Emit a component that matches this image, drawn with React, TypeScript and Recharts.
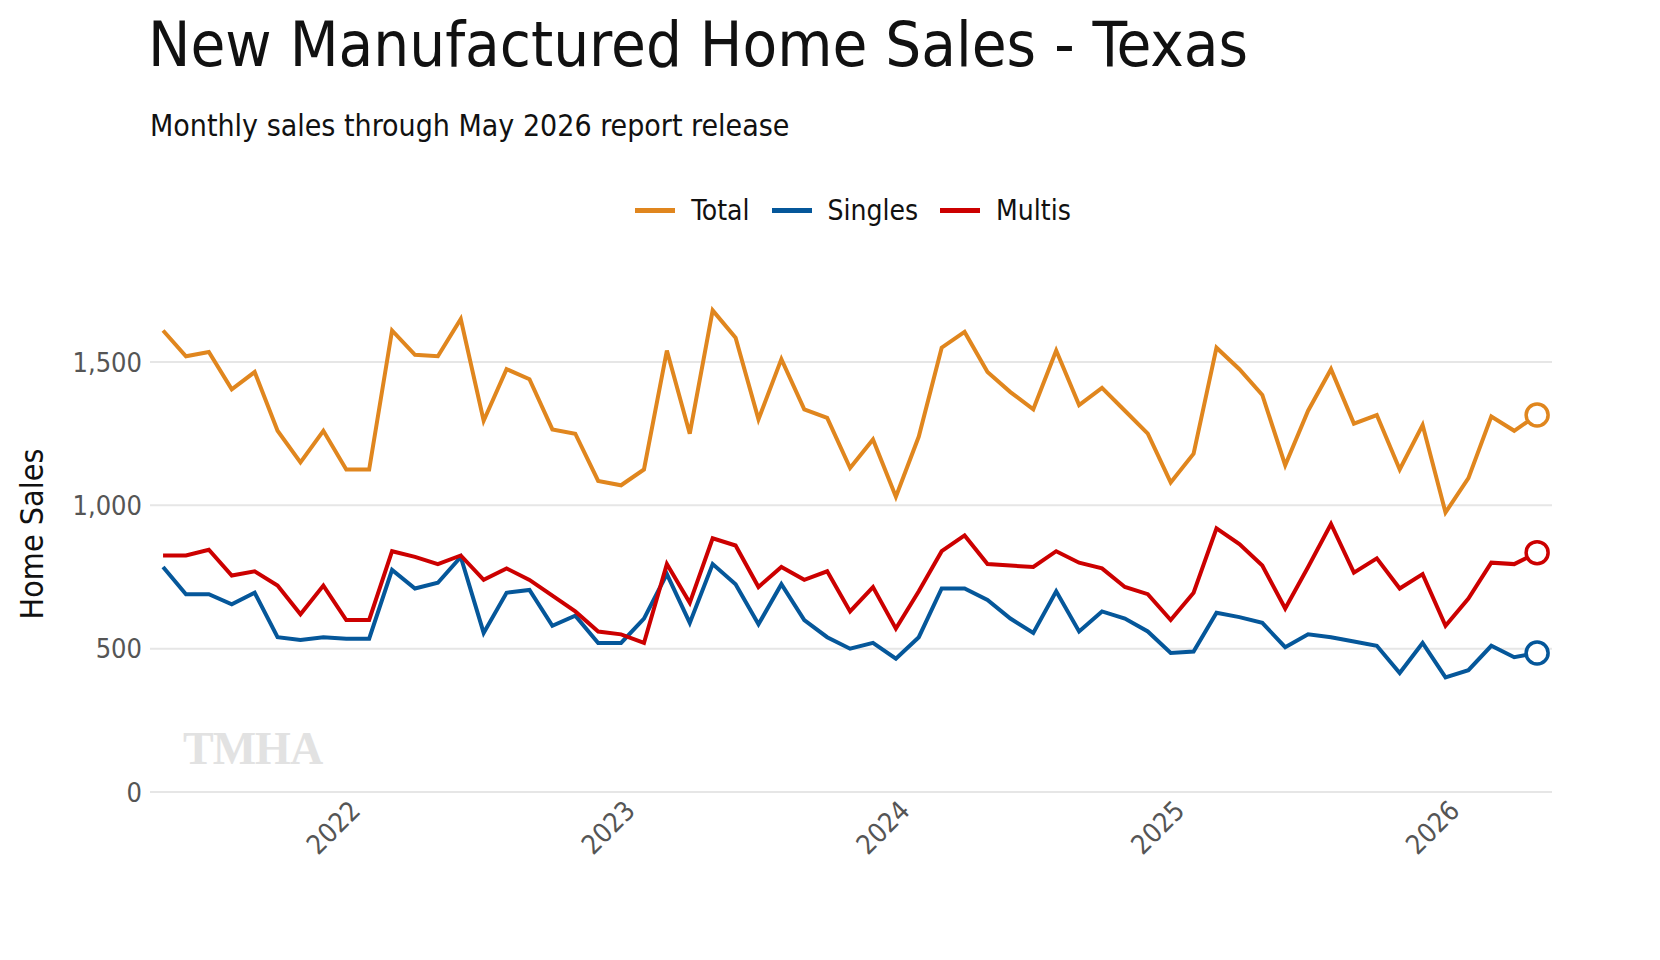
import React from 'react'
import { LineChart, Line, XAxis, YAxis, CartesianGrid, Label } from 'recharts'

const months = [
  '2021-05', '2021-06', '2021-07', '2021-08', '2021-09', '2021-10', '2021-11', '2021-12',
  '2022-01', '2022-02', '2022-03', '2022-04', '2022-05', '2022-06', '2022-07', '2022-08', '2022-09', '2022-10', '2022-11', '2022-12',
  '2023-01', '2023-02', '2023-03', '2023-04', '2023-05', '2023-06', '2023-07', '2023-08', '2023-09', '2023-10', '2023-11', '2023-12',
  '2024-01', '2024-02', '2024-03', '2024-04', '2024-05', '2024-06', '2024-07', '2024-08', '2024-09', '2024-10', '2024-11', '2024-12',
  '2025-01', '2025-02', '2025-03', '2025-04', '2025-05', '2025-06', '2025-07', '2025-08', '2025-09', '2025-10', '2025-11', '2025-12',
  '2026-01', '2026-02', '2026-03', '2026-04', '2026-05',
]

const total = [
  1610, 1520, 1535, 1405, 1465, 1260, 1150, 1260,
  1125, 1125, 1610, 1525, 1520, 1650, 1295, 1475, 1440, 1265, 1250, 1085,
  1070, 1125, 1540, 1250, 1680, 1585, 1300, 1510, 1335, 1305, 1130, 1230,
  1030, 1240, 1550, 1605, 1465, 1395, 1335, 1540, 1350, 1410, 1330, 1250,
  1080, 1180, 1550, 1475, 1385, 1140, 1330, 1475, 1285, 1315, 1125, 1280,
  975, 1095, 1310, 1260, 1315,
]

const singles = [
  785, 690, 690, 655, 695, 540, 530, 540,
  535, 535, 775, 710, 730, 820, 555, 695, 705, 580, 615, 520,
  520, 605, 760, 590, 795, 725, 585, 725, 600, 540, 500, 520,
  465, 540, 710, 710, 670, 605, 555, 700, 560, 630, 605, 560,
  485, 490, 625, 610, 590, 505, 550, 540, 525, 510, 415, 520,
  400, 425, 510, 470, 485,
]

const multis = [
  825, 825, 845, 755, 770, 720, 620, 720,
  600, 600, 840, 820, 795, 825, 740, 780, 740, 685, 630, 560,
  550, 520, 795, 660, 885, 860, 715, 785, 740, 770, 630, 715,
  570, 700, 840, 895, 795, 790, 785, 840, 800, 780, 715, 690,
  600, 695, 920, 865, 790, 640, 785, 935, 765, 815, 710, 760,
  580, 675, 800, 795, 835,
]

const yearTicks = [8, 20, 32, 44, 56]
const yTicks = [0, 500, 1000, 1500]

const data = months.map((m, i) => ({ i, month: m, total: total[i], singles: singles[i], multis: multis[i] }))

const FONT = '"DejaVu Sans Condensed", "Liberation Sans Narrow", sans-serif'
const colors = { total: '#E0861E', singles: '#05579A', multis: '#CC0000' }

const lastIdx = data.length - 1
const endDot = (color: string) => (props: any) => {
  if (props.index !== lastIdx) return <g key={props.key} />
  return <circle key={props.key} cx={props.cx} cy={props.cy} r={11} fill="#fff" stroke={color} strokeWidth={3.5} />
}

const YearTick = (props: any) => {
  const { x, y, payload } = props
  const year = String(2022 + (payload.value - 8) / 12)
  return (
    <text x={x} y={y + 8} transform={`rotate(-45 ${x} ${y + 8})`} textAnchor="end" dy={14} dx={8}
      fill="#555" fontSize={27} fontFamily={FONT}>
      {year}
    </text>
  )
}

export default function App() {
  const legend = [
    { key: 'total', label: 'Total' },
    { key: 'singles', label: 'Singles' },
    { key: 'multis', label: 'Multis' },
  ]
  return (
    <div style={{ position: 'absolute', left: 0, top: 0, width: 1660, height: 960, background: '#fff', fontFamily: FONT }}>
      <div style={{ position: 'absolute', left: 148, top: 8, fontSize: 63, color: '#111' }}>
        New Manufactured Home Sales - Texas
      </div>
      <div style={{ position: 'absolute', left: 150, top: 108, fontSize: 30, color: '#111' }}>
        Monthly sales through May 2026 report release
      </div>
      <div style={{ position: 'absolute', left: 0, width: 1706, top: 194, display: 'flex', justifyContent: 'center', gap: 22 }}>
        {legend.map((l) => (
          <div key={l.key} style={{ display: 'flex', alignItems: 'center', gap: 16, fontSize: 28, color: '#111' }}>
            <span style={{ width: 40, height: 5, background: (colors as any)[l.key], display: 'inline-block' }} />
            {l.label}
          </div>
        ))}
      </div>
      <div style={{ position: 'absolute', left: 183, top: 722, fontSize: 46, fontWeight: 'bold', fontFamily: 'Liberation Serif, serif', color: '#e2e2e2', letterSpacing: -1 }}>
        TMHA
      </div>
      <div style={{ position: 'absolute', left: 0, top: 0 }}>
        <LineChart width={1660} height={960} data={data} margin={{ top: 276, right: 108, bottom: 68, left: 0 }}>
          <CartesianGrid vertical={false} horizontalValues={yTicks} stroke="#e6e6e6" strokeWidth={2} />
          <XAxis dataKey="i" type="number" domain={[-0.57, 60.65]} allowDataOverflow ticks={yearTicks}
            axisLine={false} tickLine={false} height={100} tick={<YearTick />} interval={0} />
          <YAxis type="number" domain={[0, 1800]} ticks={yTicks} width={150} axisLine={false} tickLine={false}
            tickFormatter={(v: number) => v.toLocaleString('en-US')}
            tick={{ fill: '#555', fontSize: 27, fontFamily: FONT }}>
            <Label value="Home Sales" angle={-90} position="insideLeft" offset={32}
              style={{ fontSize: 32, fill: '#111', fontFamily: FONT, textAnchor: 'middle' }} />
          </YAxis>
          <Line dataKey="total" stroke={colors.total} strokeWidth={4} dot={endDot(colors.total)} isAnimationActive={false} />
          <Line dataKey="singles" stroke={colors.singles} strokeWidth={4} dot={endDot(colors.singles)} isAnimationActive={false} />
          <Line dataKey="multis" stroke={colors.multis} strokeWidth={4} dot={endDot(colors.multis)} isAnimationActive={false} />
        </LineChart>
      </div>
    </div>
  )
}
